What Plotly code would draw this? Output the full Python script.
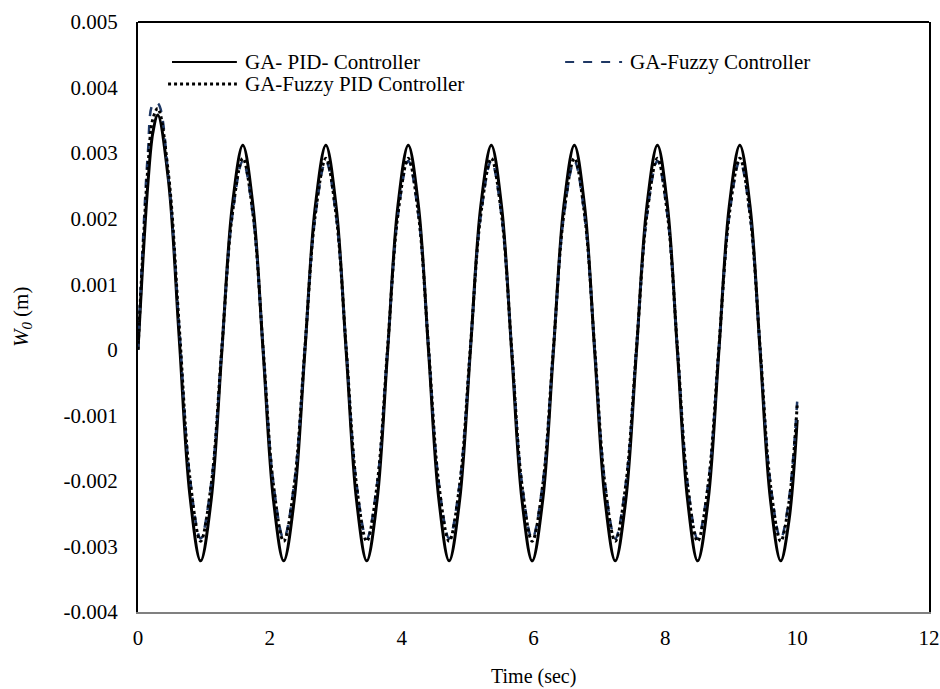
import plotly.graph_objects as go

# ---- data (time in s, deflection in mm -> scaled to m below) ----
time_s = [
    0.00, 0.075, 0.15, 0.225, 0.30,
    0.4625, 0.625, 0.7875, 0.95,
    1.11, 1.27, 1.43, 1.59,
    1.745, 1.90, 2.055, 2.21,
    2.37, 2.53, 2.69, 2.85,
    3.005, 3.16, 3.315, 3.47,
    3.6275, 3.785, 3.9425, 4.10,
    4.255, 4.41, 4.565, 4.72,
    4.88, 5.04, 5.20, 5.36,
    5.515, 5.67, 5.825, 5.98,
    6.14, 6.30, 6.46, 6.62,
    6.775, 6.93, 7.085, 7.24,
    7.40, 7.56, 7.72, 7.88,
    8.0325, 8.185, 8.3375, 8.49,
    8.65, 8.81, 8.97, 9.13,
    9.285, 9.44, 9.595, 9.75,
    9.875, 10.00,
]

ga_pid_mm = [
    0.00, 1.37, 2.53, 3.31, 3.58,
    2.58, 0.18, -2.22, -3.22,
    -2.29, -0.05, 2.19, 3.12,
    2.19, -0.05, -2.29, -3.22,
    -2.29, -0.05, 2.19, 3.12,
    2.19, -0.05, -2.29, -3.22,
    -2.29, -0.05, 2.19, 3.12,
    2.19, -0.05, -2.29, -3.22,
    -2.29, -0.05, 2.19, 3.12,
    2.19, -0.05, -2.29, -3.22,
    -2.29, -0.05, 2.19, 3.12,
    2.19, -0.05, -2.29, -3.22,
    -2.29, -0.05, 2.19, 3.12,
    2.19, -0.05, -2.29, -3.22,
    -2.29, -0.05, 2.19, 3.12,
    2.19, -0.05, -2.29, -3.22,
    -2.61, -1.07,
]

ga_fuzzy_mm = [
    0.00, 1.65, 3.00, 3.74, 3.76,
    2.62, 0.35, -1.95, -2.88,
    -2.04, 0.00, 2.04, 2.88,
    2.04, 0.00, -2.04, -2.88,
    -2.04, 0.00, 2.04, 2.88,
    2.04, 0.00, -2.04, -2.88,
    -2.04, 0.00, 2.04, 2.88,
    2.04, 0.00, -2.04, -2.88,
    -2.04, 0.00, 2.04, 2.88,
    2.04, 0.00, -2.04, -2.88,
    -2.04, 0.00, 2.04, 2.88,
    2.04, 0.00, -2.04, -2.88,
    -2.04, 0.00, 2.04, 2.88,
    2.04, 0.00, -2.04, -2.88,
    -2.04, 0.00, 2.04, 2.88,
    2.04, 0.00, -2.04, -2.88,
    -2.28, -0.79,
]

ga_fuzzy_pid_mm = [
    0.00, 1.52, 2.78, 3.52, 3.68,
    2.68, 0.36, -1.96, -2.92,
    -2.06, 0.00, 2.06, 2.92,
    2.06, 0.00, -2.06, -2.92,
    -2.06, 0.00, 2.06, 2.92,
    2.06, 0.00, -2.06, -2.92,
    -2.06, 0.00, 2.06, 2.92,
    2.06, 0.00, -2.06, -2.92,
    -2.06, 0.00, 2.06, 2.92,
    2.06, 0.00, -2.06, -2.92,
    -2.06, 0.00, 2.06, 2.92,
    2.06, 0.00, -2.06, -2.92,
    -2.06, 0.00, 2.06, 2.92,
    2.06, 0.00, -2.06, -2.92,
    -2.06, 0.00, 2.06, 2.92,
    2.06, 0.00, -2.06, -2.92,
    -2.33, -0.85,
]

x_tick_vals = [0, 2, 4, 6, 8, 10, 12]
x_tick_text = ["0", "2", "4", "6", "8", "10", "12"]
y_tick_vals = [-0.004, -0.003, -0.002, -0.001, 0.0, 0.001, 0.002, 0.003, 0.004, 0.005]
y_tick_text = ["-0.004", "-0.003", "-0.002", "-0.001", "0", "0.001", "0.002", "0.003", "0.004", "0.005"]

series_names = ["GA- PID- Controller", "GA-Fuzzy Controller", "GA-Fuzzy PID Controller"]

FONT = "Liberation Serif"
NAVY = "#1F3864"
FS = 21

W, H = 940, 689
L, R, T, B = 138, 11, 22, 77
PW, PH = W - L - R, H - T - B   # 791 x 590


def to_m(vals):
    return [v / 1000.0 for v in vals]


fig = go.Figure()
fig.add_trace(go.Scatter(x=time_s, y=to_m(ga_pid_mm), mode="lines", name=series_names[0],
                         line=dict(color="black", width=3, shape="spline"), showlegend=False))
fig.add_trace(go.Scatter(x=time_s, y=to_m(ga_fuzzy_mm), mode="lines", name=series_names[1],
                         line=dict(color=NAVY, width=2.5, dash="dash", shape="spline"), showlegend=False))
fig.add_trace(go.Scatter(x=time_s, y=to_m(ga_fuzzy_pid_mm), mode="lines", name=series_names[2],
                         line=dict(color="black", width=3, dash="dot", shape="spline"), showlegend=False))

# manual legend (line samples + labels)
legend_rows = [
    (series_names[0], dict(color="black", width=2), 0.043, 0.125, 0.932),
    (series_names[2], dict(color="black", width=3, dash="dot"), 0.038, 0.125, 0.895),
    (series_names[1], dict(color=NAVY, width=2, dash="dash"), 0.540, 0.612, 0.932),
]
for name, lstyle, x0, x1, yy in legend_rows:
    fig.add_shape(type="line", xref="paper", yref="paper", x0=x0, x1=x1, y0=yy, y1=yy, line=lstyle)
    fig.add_annotation(xref="paper", yref="paper", x=x1 + 0.0075, y=yy, text=name, showarrow=False,
                       xanchor="left", yanchor="middle", font=dict(family=FONT, size=FS, color="black"))

# top frame line
fig.add_shape(type="line", xref="paper", yref="paper", x0=0, x1=1, y0=1, y1=1,
              line=dict(color="black", width=2))

# axis titles
fig.add_annotation(xref="paper", yref="paper", x=(22 - L) / PW, y=0.5,
                   text="<i>W</i><sub><i>0</i></sub> (m)", showarrow=False, textangle=-90,
                   xanchor="center", yanchor="middle", font=dict(family=FONT, size=FS, color="black"))
fig.add_annotation(xref="paper", yref="paper", x=0.5, y=(H - B - 676) / PH,
                   text="Time (sec)", showarrow=False,
                   xanchor="center", yanchor="middle", font=dict(family=FONT, size=FS - 1, color="black"))

fig.update_layout(
    width=W, height=H,
    margin=dict(l=L, r=R, t=T, b=B, autoexpand=False),
    paper_bgcolor="white", plot_bgcolor="white",
    font=dict(family=FONT, size=FS, color="black"),
    showlegend=False,
    xaxis=dict(range=[0, 12], tickvals=x_tick_vals, ticktext=x_tick_text, showgrid=False, zeroline=False,
               showline=True, linecolor="#808080", linewidth=2, ticks="", ticklabelstandoff=6,
               ticklabeloverflow="allow", automargin=False,
               tickfont=dict(family=FONT, size=FS, color="black")),
    yaxis=dict(range=[-0.004, 0.005], tickvals=y_tick_vals, ticktext=y_tick_text, showgrid=False, zeroline=False,
               showline=True, linecolor="black", linewidth=2, mirror=True, ticks="", ticklabelstandoff=14,
               ticklabeloverflow="allow", automargin=False,
               tickfont=dict(family=FONT, size=FS, color="black")),
)

fig.write_html("out.html", config={"displayModeBar": False},
               post_script="document.body.style.margin='0';")
